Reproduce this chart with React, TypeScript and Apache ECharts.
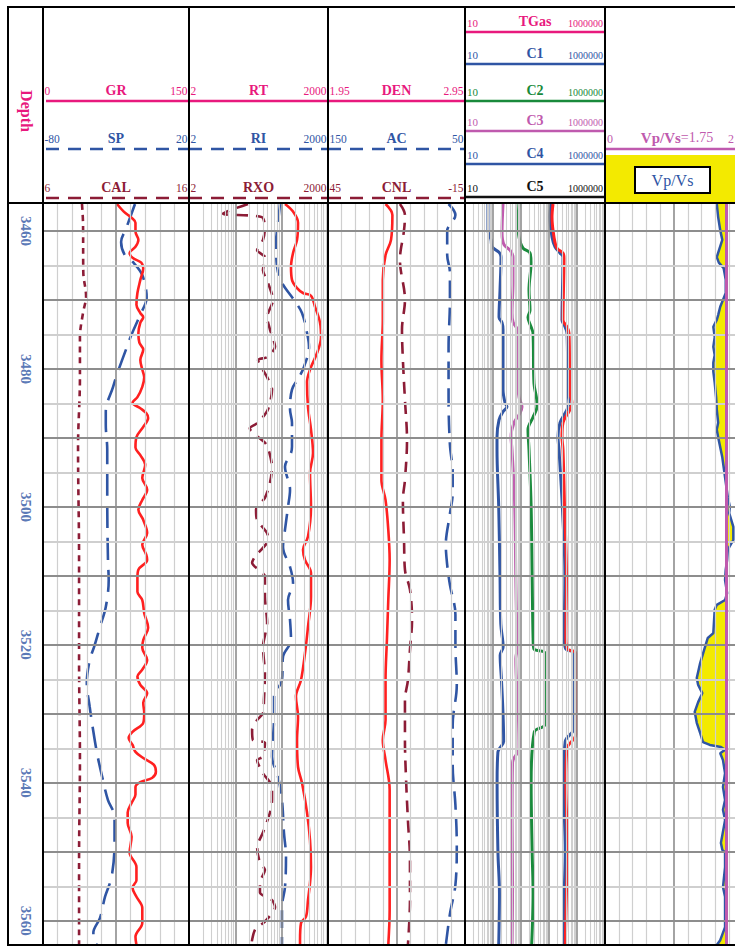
import React, { useEffect, useRef } from 'react';
import * as echarts from 'echarts';

// ---- depth scale ----
const DEPTH_RANGE = [3456.1, 3563.5];
const DEPTH_LABELS = [3460, 3480, 3500, 3520, 3540, 3560];
const DEPTH_GRID_STEP = 5;

// ---- curve headers: names and scale end values ----
const TRACK1_CURVES = ['GR', 'SP', 'CAL'];
const TRACK1_SCALES = [[0, 150], [-80, 20], [6, 16]];
const TRACK2_CURVES = ['RT', 'RI', 'RXO'];
const TRACK2_SCALES = [[2, 2000], [2, 2000], [2, 2000]];
const TRACK3_CURVES = ['DEN', 'AC', 'CNL'];
const TRACK3_SCALES = [[1.95, 2.95], [150, 50], [45, -15]];
const GAS_CURVES = ['TGas', 'C1', 'C2', 'C3', 'C4', 'C5'];
const GAS_SCALE = [10, 1000000];
const VPVS_SCALE = [0, 2];
const VPVS_CUTOFF = 1.75;

// ---- log data: [depth, value] ----
const GR = [[3456.1,76],[3457.2,83],[3458.1,91],[3458.8,95],[3460.1,95],[3461.3,98],[3462.3,95],[3463.2,89],[3463.9,92],[3464.6,101],[3465.4,103],[3467.1,100],[3469.0,97],[3470.7,96],[3471.9,100],[3472.5,103],[3473.3,100],[3474.8,98],[3476.2,99],[3477.2,103],[3478.7,100],[3480.1,102],[3481.2,104],[3482.6,102],[3484.1,97],[3484.9,92],[3485.7,100],[3486.4,106],[3487.1,108],[3488.4,103],[3489.9,96],[3491.4,95],[3492.5,100],[3493.9,105],[3495.8,102],[3497.5,107],[3499.0,102],[3500.4,98],[3501.9,103],[3503.8,107],[3505.5,102],[3506.9,106],[3507.7,107],[3509.1,98],[3510.3,97],[3512.3,97],[3513.5,102],[3515.4,104],[3517.5,108],[3519.3,103],[3520.4,102],[3522.2,107],[3523.6,102],[3524.6,97],[3525.8,100],[3527.0,107],[3528.4,103],[3529.9,104],[3531.3,103],[3532.6,92],[3533.5,88],[3534.5,92],[3535.5,95],[3536.4,103],[3537.4,114],[3538.4,116],[3539.3,112],[3539.9,100],[3540.6,95],[3541.7,95],[3542.9,91],[3544.3,87],[3545.8,87],[3547.8,91],[3550.1,89],[3552.2,96],[3554.1,96],[3555.2,92],[3556.5,96],[3558.1,102],[3560.3,102],[3562.3,95],[3563.5,96]];
const SP = [[3456.1,-17],[3459.6,-23],[3461.6,-26.5],[3463.5,-24],[3464.5,-18.5],[3466.4,-12],[3469.7,-9],[3472.2,-13.5],[3475.1,-19.5],[3477.1,-23],[3480.6,-29],[3482.6,-32],[3486.2,-37],[3488.1,-37],[3491.7,-36],[3499,-36],[3507.7,-35.5],[3510.6,-35],[3514.5,-37],[3517.4,-41],[3520.3,-45],[3522.2,-48],[3525.5,-50],[3529.0,-48],[3531.9,-46],[3535.7,-43],[3539.1,-39.5],[3542.5,-35.5],[3544.9,-31],[3548.7,-31],[3553.6,-33],[3556.5,-37.5],[3559.6,-41],[3561.7,-45.5],[3562.5,-45.5],[3563.5,-43]];
const CAL = [[3456.1,8.67],[3458.8,8.74],[3466,8.76],[3469.5,8.95],[3471.9,8.74],[3475.4,8.53],[3481.2,8.53],[3491.4,8.4],[3507.7,8.47],[3522.2,8.47],[3536.7,8.53],[3551.2,8.47],[3563.5,8.47]];

const RT = [[3456.1,236],[3457.2,352],[3458.8,451],[3461.3,429],[3463.2,352],[3465.2,318],[3467.1,334],[3468.3,429],[3469.0,578],[3469.4,859],[3471.0,1050],[3473.3,1346],[3475.4,1413],[3477.7,1159],[3480.1,818],[3481.9,705],[3485.5,740],[3488.8,859],[3492.2,950],[3495.1,818],[3500.0,859],[3504.3,740],[3506.2,578],[3507.7,638],[3509.6,859],[3513.0,859],[3517.4,740],[3521.2,638],[3525.1,523],[3527.5,407],[3530.4,451],[3533.8,429],[3537.7,451],[3540.0,549],[3544.3,705],[3548.3,818],[3552.2,859],[3554.5,818],[3557.0,740],[3559.4,670],[3560.3,523],[3562.8,498],[3563.5,498]];
const RI = [[3456.1,184],[3458.8,167],[3461.7,151],[3465.2,159],[3467.5,203],[3470.0,369],[3471.9,549],[3474.8,705],[3476.8,778],[3479.7,607],[3481.2,473],[3483.0,334],[3485.9,303],[3487.8,334],[3491.3,334],[3492.2,318],[3494.2,236],[3497.5,303],[3500.0,274],[3503.3,236],[3505.8,214],[3508.7,303],[3511.0,352],[3513.5,274],[3516.4,303],[3519.3,318],[3521.7,214],[3525.1,203],[3527.5,137],[3530.4,137],[3536.2,124],[3539.1,167],[3542.5,203],[3547.2,224],[3550.7,248],[3555.1,236],[3558.0,203],[3562.8,203],[3563.5,203]];
const RXO = [[3456.1,37.5],[3457.5,10.8],[3458.0,75],[3459.6,87],[3461.3,79],[3462.8,59],[3463.8,87],[3465.7,79],[3467.5,101],[3470.0,130],[3472.5,97],[3474.3,112],[3476.8,144],[3478.3,97],[3478.7,62],[3481.2,97],[3483.0,124],[3485.9,101],[3487.8,62],[3488.6,41],[3490.7,87],[3491.4,101],[3494.2,124],[3496.5,112],[3498.7,87],[3500.4,56],[3501.9,59],[3503.8,97],[3504.8,101],[3507.2,53],[3508.1,46],[3510.1,87],[3513.0,87],[3516.8,97],[3520.3,79],[3524.1,87],[3528.0,83],[3529.9,79],[3530.9,59],[3532.3,46],[3533.8,48],[3534.2,87],[3536.2,79],[3536.7,59],[3538.6,79],[3540.6,124],[3542.5,124],[3544.3,112],[3547.2,79],[3549.3,59],[3551.6,68],[3552.6,87],[3554.5,68],[3555.9,68],[3557.0,124],[3558.0,144],[3560.1,87],[3561.3,53],[3563.5,44]];

const DEN = [[3456.1,2.37],[3457.7,2.42],[3461.3,2.41],[3463.5,2.37],[3467.1,2.35],[3472.9,2.35],[3478.7,2.34],[3484.5,2.35],[3490.3,2.34],[3496.1,2.34],[3499,2.37],[3503.3,2.39],[3507.7,2.40],[3513.5,2.39],[3519.3,2.38],[3525.1,2.37],[3530.9,2.37],[3533.8,2.35],[3536.7,2.37],[3541.0,2.40],[3545.4,2.40],[3549.7,2.40],[3554.1,2.40],[3558.4,2.40],[3563.5,2.39]];
const AC = [[3456.1,62],[3457.7,57],[3460,63],[3463.5,63],[3466,61],[3470,61],[3477,62],[3484,62],[3491,61],[3495,59],[3498,59],[3501,61],[3505.5,64],[3508.4,63],[3511.3,61],[3515.6,57],[3520,57],[3525.8,56],[3531.6,59],[3537.4,59],[3543.2,57],[3549,56],[3554.8,57],[3559,61],[3563.5,64]];
const CNL = [[3456.1,13.5],[3457.7,11.3],[3459.9,11.7],[3464.2,13.5],[3470,11.3],[3474.3,12.6],[3478.7,12.2],[3484.5,11.3],[3490.3,10.4],[3496.1,11.3],[3499,12.2],[3504.8,11.7],[3509.1,11.3],[3512,9.1],[3516.4,8.2],[3520.7,9.1],[3525.1,10],[3528,11.3],[3533.8,11.3],[3539.6,10.8],[3545.4,10],[3551.2,9.1],[3557,9.1],[3563.5,10]];

const C4 = [[3456.1,66],[3459.9,66],[3461.3,85],[3462.3,92],[3463.1,164],[3463.8,193],[3468.6,178],[3472.5,164],[3473.3,210],[3474.3,228],[3483.0,228],[3484.9,268],[3485.5,316],[3486.2,228],[3487.4,164],[3489.9,139],[3491.7,139],[3500,160],[3510,178],[3517,190],[3520.3,230],[3521.5,180],[3525,200],[3530,228],[3534,240],[3535.5,150],[3540,140],[3550,150],[3556,170],[3563.5,160]];
const C3 = [[3456.1,228],[3460.3,210],[3462.0,247],[3462.8,405],[3463.8,518],[3467.5,518],[3471.9,477],[3473.2,518],[3474.3,720],[3481.2,720],[3484.1,849],[3485.5,1086],[3486.4,921],[3487.8,562],[3489.9,440],[3491.7,477],[3500,600],[3510,650],[3517,700],[3520.3,750],[3522,650],[3530,800],[3535,850],[3537,500],[3545,480],[3555,500],[3563.5,480]];
const C2 = [[3456.1,849],[3458.8,781],[3460.9,849],[3462.5,1179],[3463.2,2096],[3464.6,2276],[3468.6,1931],[3471.5,2096],[3472.5,1778],[3473.9,2276],[3474.8,2683],[3482.1,2913],[3485.0,3728],[3485.5,3728],[3487.0,2683],[3488.8,1778],[3491.7,1931],[3500,2300],[3510,2500],[3519,2700],[3520.6,2900],[3521.2,7197],[3531.5,7197],[3532.6,3000],[3540,2300],[3550,2500],[3556,2700],[3563.5,2400]];
const C1 = [[3456.1,11790],[3458.0,10860],[3460.9,12800],[3462.3,16380],[3463.2,24710],[3463.8,31620],[3472.9,29130],[3473.9,37280],[3474.8,43940],[3483.5,47700],[3484.9,51790],[3485.9,43940],[3487.8,24710],[3489.9,20960],[3491.7,22760],[3500,30000],[3510,37000],[3519,35000],[3520.6,40000],[3521.2,80000],[3532,80000],[3534,38000],[3540,33000],[3550,38000],[3556,35000],[3563.5,33000]];
const TGAS = [[3456.1,13900],[3458.0,12800],[3460.9,15090],[3462.5,19310],[3463.2,31620],[3464.0,34340],[3472.9,31620],[3473.9,43940],[3474.8,51790],[3483.5,56230],[3484.9,66280],[3485.9,56230],[3487.8,31620],[3489.9,29130],[3491.7,31620],[3500,36000],[3510,42000],[3519,40000],[3520.6,46000],[3521.2,90000],[3533,90000],[3535,44000],[3540,40000],[3550,46000],[3556,42000],[3563.5,38000]];

const VPVS = [[3456.1,1.62],[3458.0,1.64],[3459.9,1.67],[3461.3,1.70],[3463.8,1.62],[3464.6,1.65],[3465.4,1.72],[3467.1,1.75],[3469.0,1.75],[3470.0,1.71],[3471.0,1.67],[3472.2,1.64],[3472.9,1.62],[3473.9,1.57],[3475.4,1.59],[3476.8,1.57],[3478.0,1.59],[3479.1,1.57],[3480.4,1.57],[3482.0,1.59],[3484.1,1.61],[3485.9,1.62],[3487.8,1.64],[3488.8,1.62],[3489.9,1.64],[3492.8,1.70],[3495.7,1.74],[3498.6,1.78],[3500.0,1.81],[3500.9,1.80],[3502.9,1.86],[3504.8,1.86],[3506.2,1.78],[3507.7,1.77],[3509.1,1.75],[3510.6,1.74],[3512.5,1.77],[3513.5,1.74],[3514.2,1.62],[3514.9,1.59],[3518.3,1.57],[3519.0,1.49],[3520.3,1.45],[3522.6,1.38],[3524.8,1.33],[3525.8,1.35],[3527.0,1.41],[3528.3,1.35],[3529.7,1.30],[3531.3,1.33],[3532.8,1.38],[3534.1,1.42],[3534.5,1.52],[3534.8,1.68],[3535.2,1.74],[3535.7,1.67],[3536.7,1.71],[3538.6,1.74],[3540.6,1.71],[3542.5,1.74],[3543.9,1.71],[3545.4,1.74],[3548.7,1.68],[3549.7,1.70],[3550.1,1.74],[3552.2,1.74],[3555.1,1.71],[3556.5,1.74],[3558.4,1.74],[3560.9,1.74],[3562.8,1.67],[3563.5,1.62]];

// ---- layout ----
const VIEW_W = 735;
const CHART_W = 760;
const H = 947;
const FRAME_LEFT = 8;
const FRAME_TOP = 7;
const HEADER_BOTTOM = 203;
const PLOT_TOP = 204;
const PLOT_BOTTOM = 945;
const EDGES = [43, 189, 328, 465, 605, 743];
const ROWS3 = [101, 149, 198];
const GAS_ROWS = [32, 64, 101, 131, 164, 197];
const VPVS_ROW = 149;

const FONT = '"Liberation Serif", "Times New Roman", serif';
const PINK = '#e8197d';
const BLUE = '#2f55a4';
const MAROON = '#8c1c36';
const GREEN = '#198a3b';
const PURPLE = '#bf5aae';
const RED = '#ff2020';
const YELLOW = '#f3ea00';
const GRID_DARK = '#8d8d8d';
const GRID_LIGHT = '#cfcfcf';

const HEADER_STYLE: Record<string, { color: string; dash: number[] | null }> = {
  GR: { color: PINK, dash: null },
  SP: { color: BLUE, dash: [13, 9] },
  CAL: { color: MAROON, dash: [13, 9] },
  RT: { color: PINK, dash: null },
  RI: { color: BLUE, dash: [13, 9] },
  RXO: { color: MAROON, dash: [13, 9] },
  DEN: { color: PINK, dash: null },
  AC: { color: BLUE, dash: [13, 9] },
  CNL: { color: MAROON, dash: [13, 9] },
  TGas: { color: PINK, dash: null },
  C1: { color: BLUE, dash: null },
  C2: { color: GREEN, dash: null },
  C3: { color: PURPLE, dash: null },
  C4: { color: BLUE, dash: null },
  C5: { color: '#111111', dash: null },
};

function buildHeader(): any[] {
  const els: any[] = [];
  const txt = (x: number, y: number, text: string, color: string, size: number, bold: boolean, align: string) => ({
    type: 'text', x, y, z: 20,
    style: {
      text, fill: color, fontFamily: FONT, fontSize: size,
      fontWeight: bold ? 'bold' : 'normal',
      textAlign: align, textVerticalAlign: 'bottom',
    },
  });
  const hline = (x1: number, x2: number, y: number, color: string, dash: number[] | null, w = 2.5) => ({
    type: 'line', z: 20,
    shape: { x1, y1: y, x2, y2: y },
    style: { stroke: color, lineWidth: w, lineDash: dash || null },
  });

  // tracks 1-3
  const names3 = [TRACK1_CURVES, TRACK2_CURVES, TRACK3_CURVES];
  const scales3 = [TRACK1_SCALES, TRACK2_SCALES, TRACK3_SCALES];
  for (let t = 0; t < 3; t++) {
    const l = EDGES[t];
    const r = EDGES[t + 1];
    for (let i = 0; i < 3; i++) {
      const name = names3[t][i];
      const st = HEADER_STYLE[name];
      const y = ROWS3[i];
      els.push(hline(l + (t === 0 ? 3 : 0), r, y, st.color, st.dash));
      els.push(txt(l + 1.5, y - 4, String(scales3[t][i][0]), st.color, 11.5, false, 'left'));
      els.push(txt((l + r) / 2, y - 4, name, st.color, 14, true, 'center'));
      els.push(txt(r - 1.5, y - 4, String(scales3[t][i][1]), st.color, 11.5, false, 'right'));
    }
  }
  // gas track
  {
    const l = EDGES[3];
    const r = EDGES[4];
    GAS_CURVES.forEach((name, i) => {
      const st = HEADER_STYLE[name];
      const y = GAS_ROWS[i];
      els.push(hline(l, r, y, st.color, st.dash));
      els.push(txt(l + 2, y - 4, String(GAS_SCALE[0]), st.color, 11, false, 'left'));
      els.push(txt((l + r) / 2, y - 4, name, st.color, 14, true, 'center'));
      els.push(txt(r - 2, y - 4, String(GAS_SCALE[1]), st.color, 10, false, 'right'));
    });
  }
  // Vp/Vs track
  {
    const l = EDGES[4];
    const r = EDGES[5];
    els.push(hline(l, r, VPVS_ROW, PURPLE, null, 2.5));
    els.push(txt(l + 2, VPVS_ROW - 4, String(VPVS_SCALE[0]), PURPLE, 12, false, 'left'));
    els.push(txt(VIEW_W - 1, VPVS_ROW - 4, String(VPVS_SCALE[1]), PURPLE, 12, false, 'right'));
    els.push({
      type: 'text', x: (l + r) / 2 + 3, y: VPVS_ROW - 4, z: 20,
      style: {
        text: '{a|Vp/Vs}{b|=' + VPVS_CUTOFF + '}',
        textAlign: 'center', textVerticalAlign: 'bottom',
        rich: {
          a: { fill: PURPLE, fontFamily: FONT, fontSize: 15, fontWeight: 'bold' },
          b: { fill: PURPLE, fontFamily: FONT, fontSize: 14 },
        },
      },
    });
    els.push({ type: 'rect', z: 15, shape: { x: l, y: 155, width: r - l, height: HEADER_BOTTOM - 155 }, style: { fill: YELLOW } });
    els.push({ type: 'rect', z: 16, shape: { x: 635, y: 167, width: 75, height: 26 }, style: { fill: '#ffffff', stroke: '#000', lineWidth: 2 } });
    els.push({
      type: 'text', x: 672.5, y: 180, z: 17,
      style: { text: 'Vp/Vs', fill: BLUE, fontFamily: FONT, fontSize: 16, textAlign: 'center', textVerticalAlign: 'middle' },
    });
  }
  // depth title
  els.push({
    type: 'text', x: 26, y: 111, rotation: -Math.PI / 2, z: 20,
    style: { text: 'Depth', fill: PINK, fontFamily: FONT, fontSize: 16, fontWeight: 'bold', textAlign: 'center', textVerticalAlign: 'middle' },
  });
  // frame
  const black = { stroke: '#000', lineWidth: 2 };
  els.push({ type: 'rect', z: 25, shape: { x: FRAME_LEFT, y: FRAME_TOP, width: CHART_W, height: PLOT_BOTTOM - FRAME_TOP }, style: { ...black, fill: 'none' } });
  EDGES.slice(0, 5).forEach((x) => {
    els.push({ type: 'line', z: 25, shape: { x1: x, y1: FRAME_TOP, x2: x, y2: PLOT_BOTTOM }, style: black });
  });
  els.push({ type: 'line', z: 25, shape: { x1: FRAME_LEFT, y1: HEADER_BOTTOM, x2: CHART_W, y2: HEADER_BOTTOM }, style: black });
  return els;
}

// vertical grid values for a linear track (10 divisions, centre line dark)
function linearLines(min: number, max: number) {
  const out: any[] = [];
  for (let i = 1; i < 10; i++) {
    const v = min + ((max - min) * i) / 10;
    out.push({ xAxis: v, lineStyle: { color: i === 5 ? GRID_DARK : GRID_LIGHT, width: i === 5 ? 1.6 : 1.2, type: 'solid' } });
  }
  return out;
}
// vertical grid values for a log track (decade lines dark)
function logLines(min: number, max: number) {
  const out: any[] = [];
  for (let base = min; base < max; base *= 10) {
    for (let m = 2; m <= 10; m++) {
      const v = base * m;
      if (v >= max) break;
      out.push({ xAxis: v, lineStyle: { color: m === 10 ? GRID_DARK : GRID_LIGHT, width: m === 10 ? 1.6 : 1.1, type: 'solid' } });
    }
  }
  return out;
}
function depthLines() {
  const out: any[] = [];
  const start = Math.ceil(DEPTH_RANGE[0] / DEPTH_GRID_STEP) * DEPTH_GRID_STEP;
  for (let d = start; d <= DEPTH_RANGE[1]; d += DEPTH_GRID_STEP) {
    const major = d % 10 === 0;
    out.push({ yAxis: d, lineStyle: { color: major ? GRID_DARK : GRID_LIGHT, width: 2, type: 'solid' } });
  }
  return out;
}

function buildOption() {
  const grids: any[] = [];
  const xAxes: any[] = [];
  const yAxes: any[] = [];
  const series: any[] = [];

  const addGrid = (left: number, right: number) => {
    grids.push({ left, top: PLOT_TOP, width: right - left, height: PLOT_BOTTOM - PLOT_TOP, show: false });
    yAxes.push({ type: 'value', gridIndex: grids.length - 1, inverse: true, min: DEPTH_RANGE[0], max: DEPTH_RANGE[1], show: false });
    return grids.length - 1;
  };
  const addX = (grid: number, min: number, max: number, log = false) => {
    const inverse = min > max;
    xAxes.push({
      type: log ? 'log' : 'value', logBase: 10, gridIndex: grid,
      min: Math.min(min, max), max: Math.max(min, max), inverse, show: false,
    });
    return xAxes.length - 1;
  };
  const curve = (name: string, data: number[][], xi: number, yi: number, color: string, width: number, dash: any, smooth: any = 0.35) => {
    series.push({
      type: 'line', name, xAxisIndex: xi, yAxisIndex: yi, silent: true, z: 4,
      data: data.map(([d, v]) => [v, d]),
      showSymbol: false, symbol: 'none', smooth,
      lineStyle: { color, width, type: dash },
    });
  };
  const gridLines = (xi: number, yi: number, vertical: any[]) => {
    series.push({
      type: 'line', xAxisIndex: xi, yAxisIndex: yi, data: [], silent: true, z: 2,
      markLine: { silent: true, symbol: ['none', 'none'], label: { show: false }, animation: false, data: [...vertical, ...depthLines()] },
    });
  };

  // depth column
  const g0 = addGrid(FRAME_LEFT, EDGES[0]);
  const x0 = addX(g0, 0, 1);
  series.push({
    type: 'scatter', xAxisIndex: x0, yAxisIndex: g0, silent: true, symbolSize: 1,
    itemStyle: { color: 'rgba(0,0,0,0)' },
    data: DEPTH_LABELS.map((d) => [0.5, d]),
    label: {
      show: true, position: 'inside', rotate: -90,
      formatter: (p: any) => String(p.value[1]),
      color: BLUE, fontFamily: FONT, fontSize: 15, fontWeight: 'bold',
    },
  });

  // track 1
  const g1 = addGrid(EDGES[0], EDGES[1]);
  const xGR = addX(g1, TRACK1_SCALES[0][0], TRACK1_SCALES[0][1]);
  const xSP = addX(g1, TRACK1_SCALES[1][0], TRACK1_SCALES[1][1]);
  const xCAL = addX(g1, TRACK1_SCALES[2][0], TRACK1_SCALES[2][1]);
  gridLines(xGR, g1, linearLines(TRACK1_SCALES[0][0], TRACK1_SCALES[0][1]));
  curve('CAL', CAL, xCAL, g1, MAROON, 2.6, [6, 5]);
  curve('SP', SP, xSP, g1, BLUE, 2.6, [22, 10]);
  curve('GR', GR, xGR, g1, RED, 2.6, 'solid');

  // track 2
  const g2 = addGrid(EDGES[1], EDGES[2]);
  const xRT = addX(g2, TRACK2_SCALES[0][0], TRACK2_SCALES[0][1], true);
  const xRI = addX(g2, TRACK2_SCALES[1][0], TRACK2_SCALES[1][1], true);
  const xRXO = addX(g2, TRACK2_SCALES[2][0], TRACK2_SCALES[2][1], true);
  gridLines(xRT, g2, logLines(TRACK2_SCALES[0][0], TRACK2_SCALES[0][1]));
  curve('RXO', RXO, xRXO, g2, MAROON, 2.6, [12, 8], 0.25);
  curve('RI', RI, xRI, g2, BLUE, 2.6, [18, 9]);
  curve('RT', RT, xRT, g2, RED, 2.6, 'solid');

  // track 3
  const g3 = addGrid(EDGES[2], EDGES[3]);
  const xDEN = addX(g3, TRACK3_SCALES[0][0], TRACK3_SCALES[0][1]);
  const xAC = addX(g3, TRACK3_SCALES[1][0], TRACK3_SCALES[1][1]);
  const xCNL = addX(g3, TRACK3_SCALES[2][0], TRACK3_SCALES[2][1]);
  gridLines(xDEN, g3, linearLines(TRACK3_SCALES[0][0], TRACK3_SCALES[0][1]));
  curve('CNL', CNL, xCNL, g3, MAROON, 2.6, [12, 8]);
  curve('AC', AC, xAC, g3, BLUE, 2.6, [18, 9]);
  curve('DEN', DEN, xDEN, g3, RED, 2.6, 'solid');

  // track 4 (gas)
  const g4 = addGrid(EDGES[3], EDGES[4]);
  const xGas = addX(g4, GAS_SCALE[0], GAS_SCALE[1], true);
  gridLines(xGas, g4, logLines(GAS_SCALE[0], GAS_SCALE[1]));
  curve('C4', C4, xGas, g4, BLUE, 3, 'solid');
  curve('C3', C3, xGas, g4, PURPLE, 3, 'solid');
  curve('C2', C2, xGas, g4, GREEN, 3, 'solid');
  curve('C1', C1, xGas, g4, BLUE, 3, 'solid');
  curve('TGas', TGAS, xGas, g4, RED, 3, 'solid');

  // track 5 (Vp/Vs)
  const g5 = addGrid(EDGES[4], EDGES[5]);
  const xV = addX(g5, VPVS_SCALE[0], VPVS_SCALE[1]);
  series.push({
    type: 'custom', xAxisIndex: xV, yAxisIndex: g5, silent: true, z: 1,
    data: [[VPVS_CUTOFF, DEPTH_RANGE[0]]],
    renderItem: (_p: any, api: any) => {
      const pts = VPVS.map(([d, v]) => api.coord([v, d]));
      pts.push(api.coord([VPVS_CUTOFF, VPVS[VPVS.length - 1][0]]));
      pts.push(api.coord([VPVS_CUTOFF, VPVS[0][0]]));
      return { type: 'polygon', shape: { points: pts }, style: { fill: YELLOW } };
    },
  });
  gridLines(xV, g5, linearLines(VPVS_SCALE[0], VPVS_SCALE[1]));
  series.push({
    type: 'line', xAxisIndex: xV, yAxisIndex: g5, data: [], silent: true, z: 3,
    markLine: { silent: true, symbol: ['none', 'none'], label: { show: false }, data: [{ xAxis: VPVS_CUTOFF, lineStyle: { color: PURPLE, width: 3, type: 'solid' } }] },
  });
  curve('Vp/Vs', VPVS, xV, g5, BLUE, 2.5, 'solid', false);

  return {
    animation: false,
    backgroundColor: '#ffffff',
    grid: grids,
    xAxis: xAxes,
    yAxis: yAxes,
    series,
    graphic: { elements: buildHeader() },
  };
}

export default function App() {
  const ref = useRef<HTMLDivElement>(null);
  useEffect(() => {
    if (!ref.current) return;
    const chart = echarts.init(ref.current, undefined, { renderer: 'svg' });
    chart.setOption(buildOption() as any);
    return () => chart.dispose();
  }, []);
  return (
    <div style={{ position: 'absolute', left: 0, top: 0, width: VIEW_W, height: H, overflow: 'hidden' }}>
      <div ref={ref} style={{ width: CHART_W, height: H }} />
    </div>
  );
}
